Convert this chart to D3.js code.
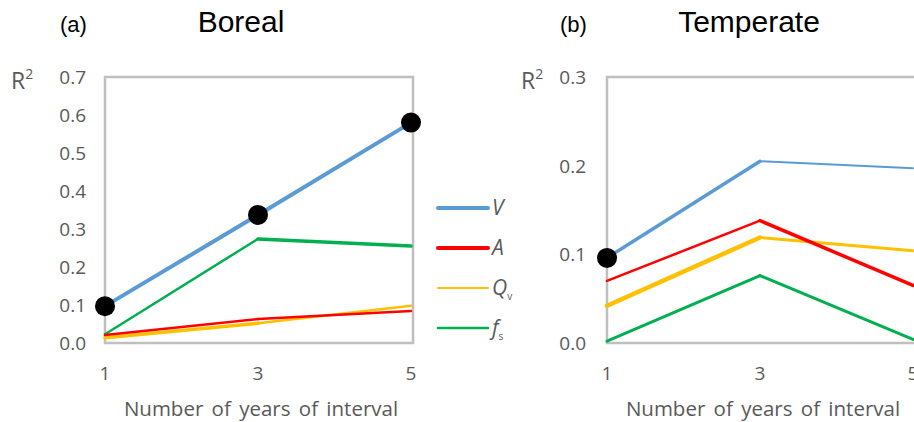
<!DOCTYPE html>
<html>
<head>
<meta charset="utf-8">
<script src="https://cdn.jsdelivr.net/npm/d3@7"></script>
<style>
  body { margin: 0; background: #fff; }
  svg { display: block; }
</style>
</head>
<body>
<svg id="chart" width="914" height="422"></svg>
<script>
// Interval lengths (years) on the x axis
const intervals = [1, 3, 5];
const seriesNames = ["V", "A", "Qv", "fs"];

// R² values, boreal forests
const borealV  = [0.097, 0.337, 0.580];
const borealA  = [0.021, 0.063, 0.084];
const borealQv = [0.014, 0.052, 0.098];
const borealFs = [0.023, 0.274, 0.255];

// R² values, temperate forests
const temperateV  = [0.096, 0.205, 0.197];
const temperateA  = [0.070, 0.138, 0.065];
const temperateQv = [0.042, 0.119, 0.104];
const temperateFs = [0.002, 0.076, 0.004];

// Which V points are marked with a black dot
const borealMarked = [true, true, true];
const temperateMarked = [true, false, false];

const borealTicks = [0, 0.1, 0.2, 0.3, 0.4, 0.5, 0.6, 0.7];
const temperateTicks = [0, 0.1, 0.2, 0.3];

// Drawing style
const colors = { V: "#5b9bd5", A: "#ff0000", Qv: "#ffc000", fs: "#00b050" };
// stroke width of each segment (1→3, 3→5)
const borealWidths = { V: [4, 4], A: [2.5, 2.5], Qv: [3.5, 2.5], fs: [2.5, 3.5] };
const temperateWidths = { V: [3.5, 2], A: [2.5, 3.5], Qv: [4.5, 3], fs: [3, 3] };

const svg = d3.select("#chart");
const grey = "#595959";
const axisFont = "'Open Sans', 'Noto Sans', sans-serif";
const titleFont = "'Liberation Sans', Arial, sans-serif";

function panel(opts) {
  const { left, right, frameRight, top, bottom, maxY, ticks, tickFmt, data, widths, marked,
          tickX, r2X, tag, tagX, title, titleX } = opts;
  const x = d3.scaleLinear().domain([1, 5]).range([left, right]);
  const y = d3.scaleLinear().domain([0, maxY]).range([bottom, top]);
  const g = svg.append("g");

  // plot frame
  g.append("rect")
    .attr("x", left).attr("y", top)
    .attr("width", frameRight - left).attr("height", bottom - top)
    .attr("fill", "none").attr("stroke", "#bfbfbf").attr("stroke-width", 2.5);

  // y tick labels
  g.selectAll("text.yt").data(ticks).join("text")
    .attr("class", "yt")
    .attr("x", tickX).attr("y", d => y(d) + 7)
    .attr("text-anchor", "end")
    .attr("font-family", axisFont).attr("font-size", 19).attr("fill", grey)
    .text(tickFmt);

  // x tick labels
  g.selectAll("text.xt").data(intervals).join("text")
    .attr("class", "xt")
    .attr("x", d => x(d)).attr("y", 380)
    .attr("text-anchor", "middle")
    .attr("font-family", axisFont).attr("font-size", 19).attr("fill", grey)
    .text(d => d);

  // axis title
  g.append("text")
    .attr("x", x(3) + 3).attr("y", 416)
    .attr("text-anchor", "middle")
    .attr("font-family", axisFont).attr("font-size", 20.5).attr("fill", grey)
    .attr("word-spacing", 3)
    .text("Number of years of interval");

  // R² label
  const r2 = g.append("text")
    .attr("x", r2X).attr("y", 89)
    .attr("font-family", axisFont).attr("font-size", 23).attr("fill", grey);
  r2.append("tspan").text("R");
  r2.append("tspan").attr("dy", -10).attr("font-size", 14).text("2");

  // series segments, drawn bottom-up so V stays on top
  ["fs", "Qv", "A", "V"].forEach(name => {
    const vals = data[name];
    const segs = d3.pairs(intervals.map((d, i) => [d, vals[i]]));
    g.selectAll(null).data(segs).join("line")
      .attr("x1", d => x(d[0][0])).attr("y1", d => y(d[0][1]))
      .attr("x2", d => x(d[1][0])).attr("y2", d => y(d[1][1]))
      .attr("stroke", colors[name])
      .attr("stroke-width", (d, i) => widths[name][i])
      .attr("stroke-linecap", "round");
  });

  // markers on V
  g.selectAll("circle").data(intervals.filter((d, i) => marked[i]).map(d => [d, data.V[intervals.indexOf(d)]]))
    .join("circle")
    .attr("cx", d => x(d[0])).attr("cy", d => y(d[1]))
    .attr("r", 10).attr("fill", "#000");

  // panel tag and title
  g.append("text").attr("x", tagX).attr("y", 32)
    .attr("font-family", titleFont).attr("font-size", 22).attr("fill", "#000")
    .text(tag);
  g.append("text").attr("x", titleX).attr("y", 32)
    .attr("text-anchor", "middle")
    .attr("font-family", titleFont).attr("font-size", 30).attr("fill", "#000")
    .text(title);
}

panel({
  left: 105, right: 411, frameRight: 413, top: 77, bottom: 343, maxY: 0.7,
  ticks: borealTicks, tickFmt: d3.format(".1f"),
  data: { V: borealV, A: borealA, Qv: borealQv, fs: borealFs },
  widths: borealWidths, marked: borealMarked,
  tickX: 86, r2X: 11, tag: "(a)", tagX: 60, title: "Boreal", titleX: 241
});

panel({
  left: 607, right: 913, frameRight: 916, top: 77, bottom: 343, maxY: 0.3,
  ticks: temperateTicks, tickFmt: d3.format(".1f"),
  data: { V: temperateV, A: temperateA, Qv: temperateQv, fs: temperateFs },
  widths: temperateWidths, marked: temperateMarked,
  tickX: 586, r2X: 521, tag: "(b)", tagX: 560, title: "Temperate", titleX: 749
});

// legend
const legendWidths = { V: 4, A: 4, Qv: 2, fs: 2.5 };
const legendY = d3.scalePoint().domain(seriesNames).range([208, 328]);
const lg = svg.append("g");
lg.selectAll("line").data(seriesNames).join("line")
  .attr("x1", 438).attr("x2", 488)
  .attr("y1", d => legendY(d)).attr("y2", d => legendY(d))
  .attr("stroke", d => colors[d]).attr("stroke-width", d => legendWidths[d])
  .attr("stroke-linecap", "round");
const labels = { V: ["V", ""], A: ["A", ""], Qv: ["Q", "v"], fs: ["f", "s"] };
seriesNames.forEach(name => {
  const t = lg.append("text")
    .attr("x", 492).attr("y", legendY(name) + 7)
    .attr("font-family", axisFont).attr("font-style", "italic")
    .attr("font-size", 21).attr("fill", grey);
  t.append("tspan").text(labels[name][0]);
  if (labels[name][1]) {
    t.append("tspan").attr("dy", 5).attr("font-size", 10).attr("font-style", "normal").text(labels[name][1]);
  }
});
</script>
</body>
</html>
